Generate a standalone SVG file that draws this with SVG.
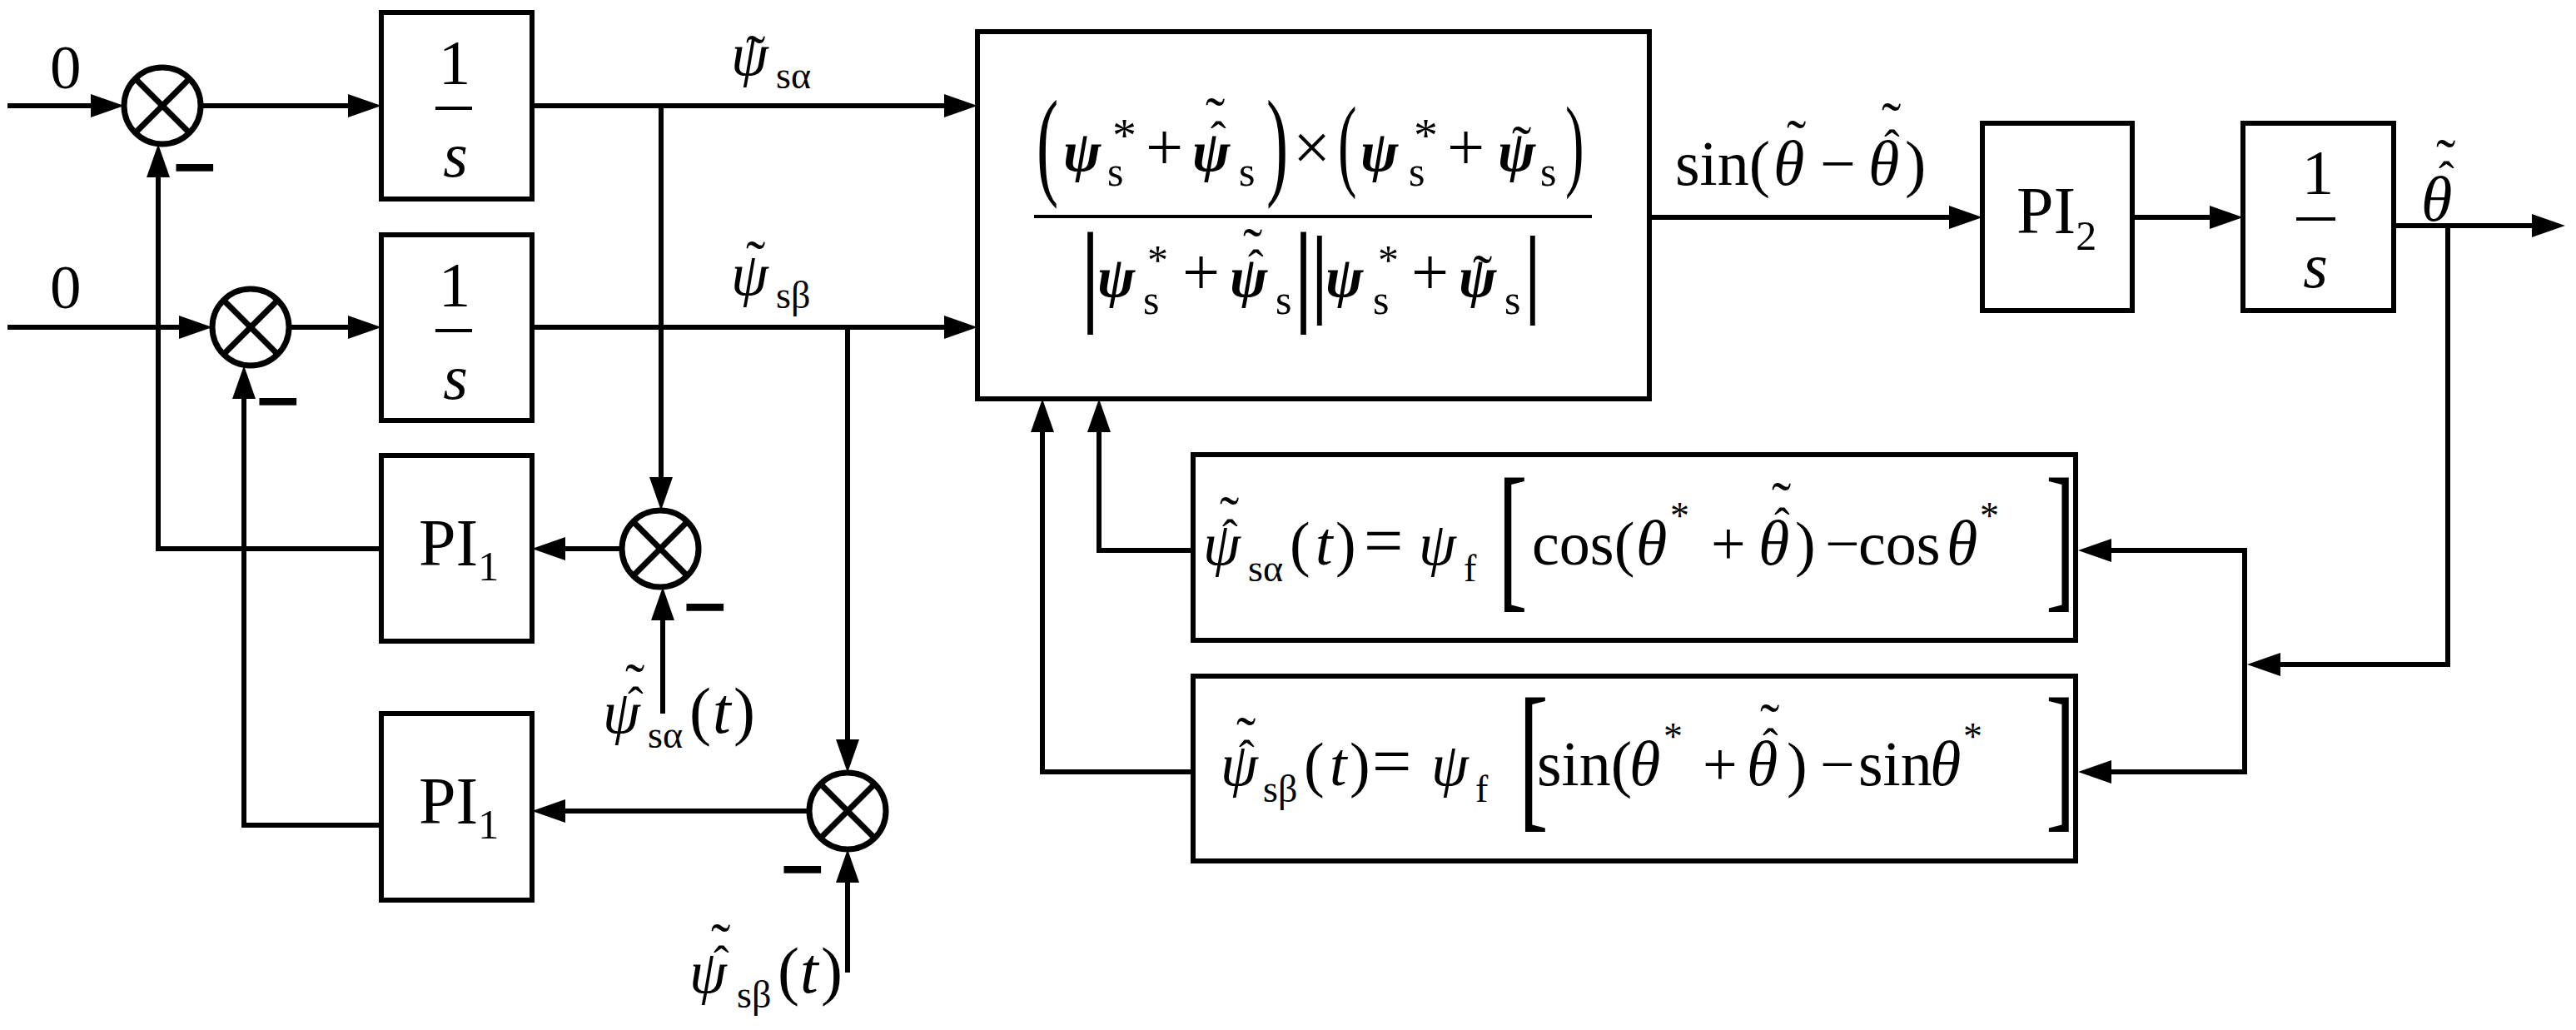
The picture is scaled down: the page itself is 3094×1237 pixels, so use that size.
<svg xmlns="http://www.w3.org/2000/svg" width="3094" height="1237" viewBox="0 0 3094 1237">
<defs>
<marker id="ah" markerUnits="userSpaceOnUse" markerWidth="40" markerHeight="28" refX="31" refY="14" orient="auto"><path d="M0,0 L40,14 L0,28 z" fill="#000"/></marker>
</defs>
<style>
.ln{fill:none;stroke:#000;stroke-width:6}
.ar{marker-end:url(#ah)}
.bx{fill:#fff;stroke:#000;stroke-width:6}
.sum circle{fill:#fff;stroke:#000;stroke-width:7}
.sum line{stroke:#000;stroke-width:7}
.bar{stroke:#000;stroke-width:4}
text{font-family:"Liberation Serif","Times New Roman",serif;fill:#000}
.i{font-style:italic}
.b{font-weight:bold}
.m{font-family:"Liberation Sans",Arial,sans-serif;font-weight:bold}
.sb{font-size:46px;font-style:normal;font-weight:normal}
.ss{font-size:50px;font-style:normal;font-weight:normal}
.td{font-size:70px;font-style:normal;font-weight:normal}
.ht{font-size:56px;font-style:normal;font-weight:normal}
</style>
<rect width="3094" height="1237" fill="#fff"/>

<g id="connectors">
<path class="ln ar" d="M9,127 H140"/>
<path class="ln ar" d="M241,127 H449"/>
<path class="ln ar" d="M639,127 H1165"/>
<path class="ln ar" d="M794,127 V604"/>
<path class="ln ar" d="M9,393 H246"/>
<path class="ln ar" d="M347,393 H449"/>
<path class="ln ar" d="M639,393 H1165"/>
<path class="ln ar" d="M1018,393 V919"/>
<path class="ln ar" d="M747,659 H648"/>
<path class="ln ar" d="M458,659 H190 V182"/>
<path class="ln ar" d="M796,857 V714"/>
<path class="ln ar" d="M972,974 H648"/>
<path class="ln ar" d="M458,991 H293 V448"/>
<path class="ln ar" d="M1018,1168 V1029"/>
<path class="ln ar" d="M1981,261 H2372"/>
<path class="ln ar" d="M2561,261 H2685"/>
<path class="ln ar" d="M2875,271 H3072"/>
<path class="ln ar" d="M2940,271 V798 H2708"/>
<path class="ln" d="M2696,658 V930"/>
<path class="ln ar" d="M2696,661 H2505"/>
<path class="ln ar" d="M2696,927 H2505"/>
<path class="ln ar" d="M1433,661 H1320 V488"/>
<path class="ln ar" d="M1433,927 H1252 V488"/>
</g>

<g id="in1"><text x="60" y="106" font-size="75">0</text></g>
<g id="in2"><text x="60" y="370" font-size="75">0</text></g>

<g id="sum1" class="sum"><circle cx="195" cy="127" r="46"/><line x1="162.5" y1="94.5" x2="227.5" y2="159.5"/><line x1="227.5" y1="94.5" x2="162.5" y2="159.5"/><text class="m" x="208" y="228" font-size="80" textLength="52" lengthAdjust="spacingAndGlyphs">−</text></g>
<g id="sum2" class="sum"><circle cx="301" cy="393" r="46"/><line x1="268.5" y1="360.5" x2="333.5" y2="425.5"/><line x1="333.5" y1="360.5" x2="268.5" y2="425.5"/><text class="m" x="308" y="509" font-size="80" textLength="52" lengthAdjust="spacingAndGlyphs">−</text></g>
<g id="sum3" class="sum"><circle cx="793" cy="659" r="46"/><line x1="760.5" y1="626.5" x2="825.5" y2="691.5"/><line x1="825.5" y1="626.5" x2="760.5" y2="691.5"/><text class="m" x="821" y="756" font-size="80" textLength="52" lengthAdjust="spacingAndGlyphs">−</text></g>
<g id="sum4" class="sum"><circle cx="1018" cy="974" r="46"/><line x1="985.5" y1="941.5" x2="1050.5" y2="1006.5"/><line x1="1050.5" y1="941.5" x2="985.5" y2="1006.5"/><text class="m" x="938" y="1071" font-size="80" textLength="52" lengthAdjust="spacingAndGlyphs">−</text></g>

<g id="int1"><rect class="bx" x="458" y="15" width="181" height="224"/>
<text x="546" y="101" font-size="77" text-anchor="middle">1</text><line class="bar" x1="523" y1="130" x2="567" y2="130"/><text class="i" x="547" y="212" font-size="76" text-anchor="middle">s</text></g>
<g id="int2"><rect class="bx" x="458" y="282" width="181" height="223"/>
<text x="546" y="368" font-size="77" text-anchor="middle">1</text><line class="bar" x1="523" y1="397" x2="567" y2="397"/><text class="i" x="547" y="479" font-size="76" text-anchor="middle">s</text></g>

<g id="pi1a"><rect class="bx" x="458" y="547" width="181" height="223"/>
<text x="503" y="679" font-size="80">PI<tspan font-size="50" dy="18">1</tspan></text></g>
<g id="pi1b"><rect class="bx" x="458" y="857" width="181" height="224"/>
<text x="503" y="989" font-size="80">PI<tspan font-size="50" dy="18">1</tspan></text></g>

<g id="lbl-psa">
<text font-size="72"><tspan class="i" x="878" y="90">ψ</tspan><tspan class="sb" x="932" y="106">sα</tspan><tspan class="td" x="896" y="90">˜</tspan></text></g>
<g id="lbl-psb">
<text font-size="72"><tspan class="i" x="878" y="354">ψ</tspan><tspan class="sb" x="932" y="370">sβ</tspan><tspan class="td" x="896" y="337">˜</tspan></text></g>

<g id="lbl-psa-hat">
<text font-size="72"><tspan class="i" x="724" y="880">ψ</tspan><tspan class="sb" x="778" y="898">sα</tspan><tspan class="ht" x="754" y="864">ˆ</tspan><tspan class="td" x="751" y="845">˜</tspan><tspan font-size="78" x="828" y="880">(</tspan><tspan class="i" font-size="78" x="856" y="880">t</tspan><tspan font-size="78" x="881" y="880">)</tspan></text></g>
<g id="lbl-psb-hat">
<text font-size="72"><tspan class="i" x="828" y="1192">ψ</tspan><tspan class="sb" x="885" y="1210">sβ</tspan><tspan class="ht" x="857" y="1175">ˆ</tspan><tspan class="td" x="854" y="1157">˜</tspan><tspan font-size="78" x="934" y="1192">(</tspan><tspan class="i" font-size="78" x="961" y="1192">t</tspan><tspan font-size="78" x="986" y="1192">)</tspan></text></g>

<g id="phase">
<rect class="bx" x="1174" y="38" width="807" height="441"/>
<text transform="translate(1245,220) scale(0.55,1)" font-size="143">(</text>
<text transform="translate(1521,220) scale(0.55,1)" font-size="143">)</text>
<text transform="translate(1607,213) scale(0.55,1)" font-size="123">(</text>
<text transform="translate(1880,213) scale(0.55,1)" font-size="123">)</text>
<text font-size="68"><tspan class="b i" x="1277" y="205">ψ</tspan><tspan font-size="58" x="1336" y="182">*</tspan><tspan class="ss" x="1330" y="223">s</tspan><tspan font-size="80" x="1376" y="204">+</tspan><tspan class="b i" x="1432" y="205">ψ</tspan><tspan class="ht" x="1454" y="185">ˆ</tspan><tspan class="td" x="1448" y="165">˜</tspan><tspan class="ss" x="1488" y="223">s</tspan><tspan font-size="80" x="1553" y="204">×</tspan><tspan class="b i" x="1634" y="205">ψ</tspan><tspan font-size="58" x="1698" y="182">*</tspan><tspan class="ss" x="1692" y="223">s</tspan><tspan font-size="80" x="1738" y="204">+</tspan><tspan class="b i" x="1799" y="205">ψ</tspan><tspan class="td" x="1816" y="199">˜</tspan><tspan class="ss" x="1850" y="223">s</tspan></text>
<line class="bar" x1="1242" y1="260" x2="1912" y2="260"/>
<text font-size="68"><tspan font-size="135" x="1296" y="373">|</tspan><tspan class="b i" x="1318" y="356">ψ</tspan><tspan class="ss" x="1378" y="329">*</tspan><tspan class="ss" x="1373" y="377">s</tspan><tspan font-size="80" x="1420" y="354">+</tspan><tspan class="b i" x="1477" y="356">ψ</tspan><tspan class="ht" x="1499" y="339">ˆ</tspan><tspan class="td" x="1493" y="322">˜</tspan><tspan class="ss" x="1532" y="377">s</tspan><tspan font-size="135" x="1552" y="373">|</tspan><tspan font-size="118" x="1573" y="366">|</tspan><tspan class="b i" x="1592" y="356">ψ</tspan><tspan class="ss" x="1655" y="329">*</tspan><tspan class="ss" x="1649" y="377">s</tspan><tspan font-size="80" x="1695" y="354">+</tspan><tspan class="b i" x="1752" y="356">ψ</tspan><tspan class="td" x="1769" y="354">˜</tspan><tspan class="ss" x="1807" y="377">s</tspan><tspan font-size="118" x="1829" y="366">|</tspan></text>
</g>

<g id="lbl-sin">
<text font-size="76"><tspan x="2012" y="222">sin(</tspan><tspan class="i" x="2130" y="222">θ</tspan><tspan class="td" x="2146" y="192">˜</tspan><tspan x="2186" y="222">−</tspan><tspan class="i" x="2244" y="222">θ</tspan><tspan class="ht" x="2263" y="195">ˆ</tspan><tspan class="td" x="2260" y="171">˜</tspan><tspan x="2288" y="222">)</tspan></text>
</g>

<g id="pi2"><rect class="bx" x="2381" y="148" width="180" height="225"/>
<text x="2422" y="280" font-size="80">PI<tspan font-size="50" dy="20">2</tspan></text></g>
<g id="int3"><rect class="bx" x="2694" y="148" width="181" height="225"/>
<text x="2784" y="233" font-size="77" text-anchor="middle">1</text><line class="bar" x1="2758" y1="263" x2="2805" y2="263"/><text class="i" x="2781" y="345" font-size="76" text-anchor="middle">s</text></g>

<g id="lbl-theta">
<text font-size="76"><tspan class="i" x="2908" y="265">θ</tspan><tspan class="ht" x="2929" y="233">ˆ</tspan><tspan class="td" x="2926" y="215">˜</tspan></text>
</g>

<g id="boxA"><rect class="bx" x="1433" y="546" width="1060" height="223"/>
<text transform="translate(1799,709) scale(0.55,1)" font-size="195">[</text>
<text transform="translate(2457,709) scale(0.55,1)" font-size="195">]</text>
<text font-size="74"><tspan class="i" font-size="72" x="1445" y="678">ψ</tspan><tspan class="ht" x="1468" y="663">ˆ</tspan><tspan class="td" x="1465" y="644">˜</tspan><tspan class="sb" x="1499" y="698">sα</tspan><tspan x="1549" y="678">(</tspan><tspan class="i" x="1580" y="678">t</tspan><tspan x="1604" y="678">)</tspan><tspan font-size="84" x="1638" y="678">=</tspan><tspan class="i" font-size="72" x="1704" y="678">ψ</tspan><tspan class="sb" x="1758" y="698">f</tspan><tspan x="1840" y="678">cos(</tspan><tspan class="i" font-size="76" x="1965" y="678">θ</tspan><tspan font-size="46" x="2006" y="635">*</tspan><tspan x="2055" y="678">+</tspan><tspan class="i" font-size="76" x="2112" y="678">θ</tspan><tspan class="ht" x="2131" y="649">ˆ</tspan><tspan class="td" x="2128" y="627">˜</tspan><tspan x="2156" y="678">)</tspan><tspan x="2192" y="678">−</tspan><tspan x="2232" y="678">cos</tspan><tspan class="i" font-size="76" x="2338" y="678">θ</tspan><tspan font-size="46" x="2378" y="635">*</tspan></text>
</g>

<g id="boxB"><rect class="bx" x="1433" y="812" width="1060" height="222"/>
<text transform="translate(1824,973) scale(0.55,1)" font-size="195">[</text>
<text transform="translate(2457,973) scale(0.55,1)" font-size="195">]</text>
<text font-size="74"><tspan class="i" font-size="72" x="1466" y="943">ψ</tspan><tspan class="ht" x="1488" y="928">ˆ</tspan><tspan class="td" x="1485" y="909">˜</tspan><tspan class="sb" x="1517" y="963">sβ</tspan><tspan x="1566" y="943">(</tspan><tspan class="i" x="1597" y="943">t</tspan><tspan x="1621" y="943">)</tspan><tspan font-size="84" x="1648" y="943">=</tspan><tspan class="i" font-size="72" x="1719" y="943">ψ</tspan><tspan class="sb" x="1772" y="963">f</tspan><tspan font-size="76" x="1846" y="943">sin(</tspan><tspan class="i" font-size="76" x="1957" y="943">θ</tspan><tspan font-size="46" x="1998" y="900">*</tspan><tspan x="2045" y="943">+</tspan><tspan class="i" font-size="76" x="2098" y="943">θ</tspan><tspan class="ht" x="2117" y="914">ˆ</tspan><tspan class="td" x="2114" y="893">˜</tspan><tspan x="2146" y="943">)</tspan><tspan x="2186" y="943">−</tspan><tspan font-size="76" x="2232" y="943">sin</tspan><tspan class="i" font-size="76" x="2318" y="943">θ</tspan><tspan font-size="46" x="2358" y="900">*</tspan></text>
</g>
</svg>
